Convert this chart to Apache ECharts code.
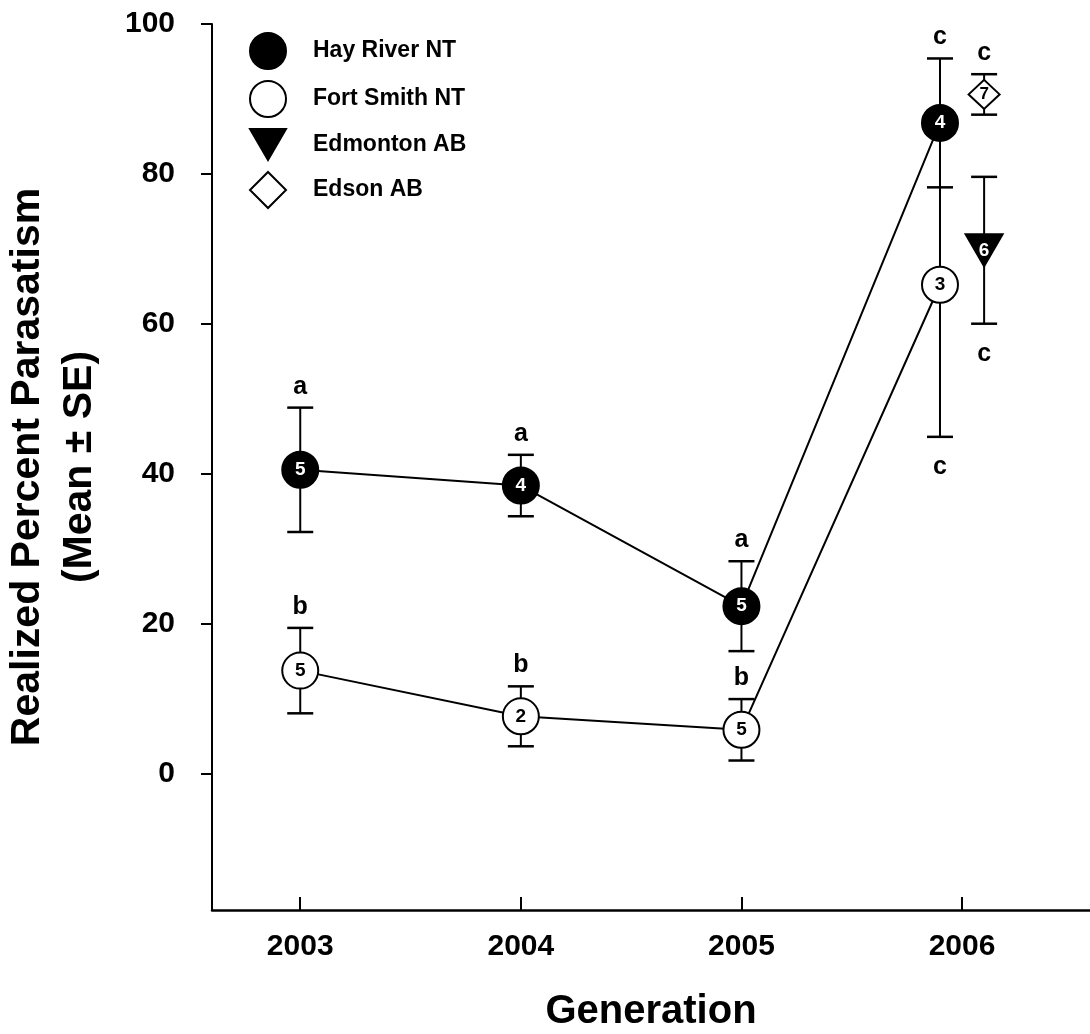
<!DOCTYPE html>
<html>
<head>
<meta charset="utf-8">
<script src="https://cdn.jsdelivr.net/npm/echarts@6/dist/echarts.min.js"></script>
<style>
  html, body { margin: 0; padding: 0; background: #fff; }
  #chart { width: 1090px; height: 1034px; }
</style>
</head>
<body>
<div id="chart"></div>
<script>
// Axis ticks
const years = [2003, 2004, 2005, 2006];
const yTicks = [0, 20, 40, 60, 80, 100];

// Hay River NT
const hayX = [2003, 2004, 2005, 2005.9];
const hayMean = [40.5, 38.4, 22.3, 86.8];
const haySE = [8.3, 4.1, 6.0, 8.6];
const hayN = [5, 4, 5, 4];
const hayLetters = ['a', 'a', 'a', 'c'];
const hayLetterSide = ['above', 'above', 'above', 'above'];

// Fort Smith NT
const fortX = [2003, 2004, 2005, 2005.9];
const fortMean = [13.7, 7.6, 5.8, 65.2];
const fortSE = [5.7, 4.0, 4.1, 20.3];
const fortN = [5, 2, 5, 3];
const fortLetters = ['b', 'b', 'b', 'c'];
const fortLetterSide = ['above', 'above', 'above', 'below'];

// Edmonton AB
const edmX = [2006.1];
const edmMean = [69.8];
const edmSE = [9.8];
const edmN = [6];
const edmLetters = ['c'];
const edmLetterSide = ['below'];

// Edson AB
const edsX = [2006.1];
const edsMean = [90.6];
const edsSE = [2.7];
const edsN = [7];
const edsLetters = ['c'];
const edsLetterSide = ['above'];

const FONT = '"Liberation Sans", Arial, Helvetica, sans-serif';

// Mean ± SE bars with capped ends and the significance letter
function errorSeries(xs, means, ses, letters, sides) {
  return {
    type: 'custom',
    z: 1,
    silent: true,
    clip: false,
    data: xs.map((x, i) => [x, means[i] - ses[i], means[i] + ses[i], i]),
    encode: { x: 0, y: [1, 2] },
    renderItem(params, api) {
      const x = api.value(0), lo = api.value(1), hi = api.value(2), i = api.value(3);
      const pLo = api.coord([x, lo]);
      const pHi = api.coord([x, hi]);
      const cap = 13;
      const stem = { stroke: '#000', lineWidth: 2 };
      const capStyle = { stroke: '#000', lineWidth: 2.5 };
      const above = sides[i] === 'above';
      return {
        type: 'group',
        children: [
          { type: 'line', shape: { x1: pLo[0], y1: pLo[1], x2: pHi[0], y2: pHi[1] }, style: stem },
          { type: 'line', shape: { x1: pLo[0] - cap, y1: pLo[1], x2: pLo[0] + cap, y2: pLo[1] }, style: capStyle },
          { type: 'line', shape: { x1: pHi[0] - cap, y1: pHi[1], x2: pHi[0] + cap, y2: pHi[1] }, style: capStyle },
          {
            type: 'text',
            x: pLo[0],
            y: above ? pHi[1] - 21 : pLo[1] + 30,
            style: {
              text: letters[i], fill: '#000',
              fontSize: 25, fontWeight: 'bold', fontFamily: FONT,
              align: 'center', verticalAlign: 'middle'
            }
          }
        ]
      };
    }
  };
}

// Connecting line between yearly means
function lineSeries(xs, means) {
  return {
    type: 'line',
    z: 2,
    silent: true,
    symbol: 'none',
    data: xs.map((x, i) => [x, means[i]]),
    lineStyle: { color: '#000', width: 2 },
    animation: false
  };
}

// Markers carrying the sample size
function markerSeries(name, xs, means, ns, symbol, size, fill, textColor, fontSize) {
  return {
    type: 'scatter',
    name: name,
    z: 4,
    symbol: symbol,
    symbolSize: size,
    data: xs.map((x, i) => [x, means[i]]),
    itemStyle: { color: fill, borderColor: '#000', borderWidth: 2, opacity: 1 },
    label: {
      show: true,
      position: 'inside',
      formatter: p => String(ns[p.dataIndex]),
      color: textColor,
      fontSize: fontSize,
      fontWeight: 'bold',
      fontFamily: FONT
    },
    emphasis: { disabled: true }
  };
}

const chart = echarts.init(document.getElementById('chart'), null, { renderer: 'canvas' });

chart.setOption({
  animation: false,
  backgroundColor: '#fff',
  grid: { left: 212, right: 0, top: 24, bottom: 124, outerBoundsMode: 'none', containLabel: false },
  legend: {
    orient: 'vertical',
    left: 249,
    top: 32,
    padding: 0,
    itemWidth: 36,
    itemHeight: 36,
    itemGap: 10,
    selectedMode: false,
    data: ['Hay River NT', 'Fort Smith NT', 'Edmonton AB', 'Edson AB'],
    textStyle: { fontSize: 23, fontWeight: 'bold', color: '#000', fontFamily: FONT, padding: [0, 0, 0, 22] }
  },
  xAxis: {
    type: 'value',
    min: 2002.6,
    max: 2006.58,
    axisLine: { show: true, onZero: false, lineStyle: { color: '#000', width: 2.5 } },
    axisTick: { show: true, inside: true, length: 13, lineStyle: { color: '#000', width: 2 }, customValues: years },
    axisLabel: {
      customValues: years,
      formatter: v => String(v),
      margin: 22,
      color: '#000', fontSize: 30, fontWeight: 'bold', fontFamily: FONT
    },
    splitLine: { show: false },
    name: 'Generation',
    nameLocation: 'middle',
    nameGap: 82,
    nameTextStyle: { fontSize: 40, fontWeight: 'bold', color: '#000', fontFamily: FONT, lineHeight: 40 }
  },
  yAxis: {
    type: 'value',
    min: -18.25,
    max: 100,
    axisLine: { show: true, onZero: false, lineStyle: { color: '#000', width: 2 } },
    axisTick: { show: true, inside: false, length: 11, lineStyle: { color: '#000', width: 2 }, customValues: yTicks },
    axisLabel: {
      customValues: yTicks,
      margin: 37,
      color: '#000', fontSize: 30, fontWeight: 'bold', fontFamily: FONT
    },
    splitLine: { show: false },
    name: 'Realized Percent Parasatism\n(Mean ± SE)',
    nameLocation: 'middle',
    nameRotate: 90,
    nameGap: 106,
    nameTextStyle: { fontSize: 41, fontWeight: 'bold', color: '#000', fontFamily: FONT, lineHeight: 52, align: 'center' }
  },
  series: [
    errorSeries(hayX, hayMean, haySE, hayLetters, hayLetterSide),
    errorSeries(fortX, fortMean, fortSE, fortLetters, fortLetterSide),
    errorSeries(edmX, edmMean, edmSE, edmLetters, edmLetterSide),
    errorSeries(edsX, edsMean, edsSE, edsLetters, edsLetterSide),
    lineSeries(hayX, hayMean),
    lineSeries(fortX, fortMean),
    markerSeries('Hay River NT', hayX, hayMean, hayN, 'circle', 36, '#000', '#fff', 19),
    markerSeries('Fort Smith NT', fortX, fortMean, fortN, 'circle', 36, '#fff', '#000', 19),
    markerSeries('Edmonton AB', edmX, edmMean, edmN, 'path://M0,0L36,0L18,31Z', [37, 32], '#000', '#fff', 19),
    markerSeries('Edson AB', edsX, edsMean, edsN, 'diamond', [31, 29], '#fff', '#000', 17)
  ]
});
</script>
</body>
</html>
